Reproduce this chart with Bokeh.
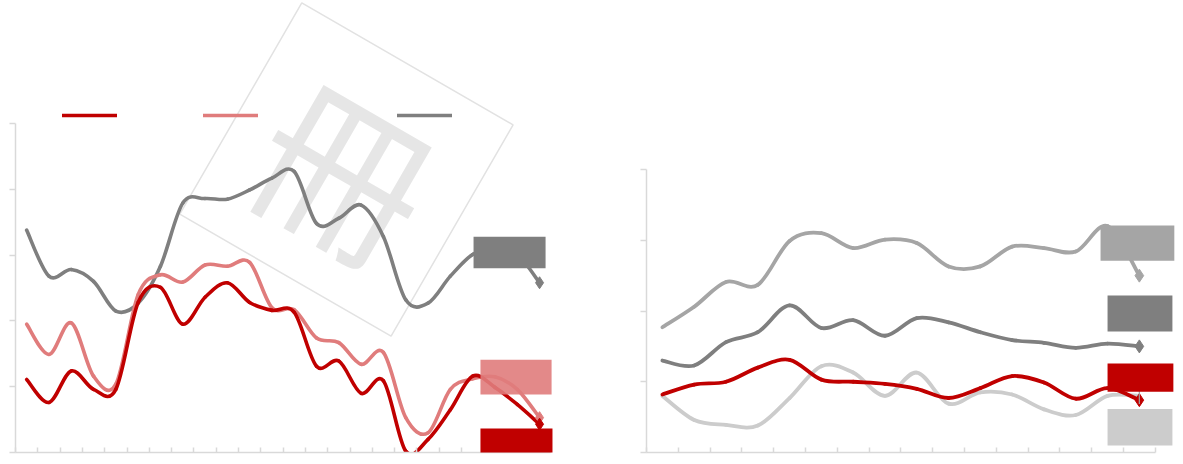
import math
from bokeh.plotting import figure
from bokeh.layouts import row
from bokeh.models import (Range1d, Legend, LegendItem, BoxAnnotation, FixedTicker,
                          CustomLabelingPolicy, Label)
from bokeh.embed import file_html
from bokeh.resources import INLINE

# ---------------- data ----------------
# left chart: 24 periods
left_dark_red = [1.11, 0.76, 1.24, 0.96, 0.96, 2.28, 2.51, 1.95, 2.36, 2.58, 2.28, 2.16,
                 2.13, 1.31, 1.39, 0.90, 1.09, 0.02, 0.20, 0.65, 1.16, 0.99, 0.73, 0.43]
left_light_red = [1.95, 1.49, 1.97, 1.16, 1.04, 2.40, 2.70, 2.59, 2.85, 2.83, 2.89, 2.20,
                  2.17, 1.74, 1.67, 1.34, 1.52, 0.53, 0.30, 0.96, 1.12, 1.15, 0.96, 0.53]
left_gray = [3.38, 2.68, 2.78, 2.60, 2.15, 2.27, 2.83, 3.79, 3.86, 3.85, 3.99, 4.17,
             4.27, 3.48, 3.56, 3.76, 3.28, 2.32, 2.27, 2.68, 3.01, 3.11, 3.01, 2.58]
left_y_ticks = [0, 1, 2, 3, 4, 5]

# right chart: 16 periods
right_a = [1.77, 2.06, 2.41, 2.37, 2.99, 3.10, 2.89, 3.01, 2.96, 2.63, 2.63, 2.91,
           2.89, 2.84, 3.20, 2.50]
right_b = [1.30, 1.23, 1.56, 1.70, 2.08, 1.76, 1.87, 1.65, 1.90, 1.84, 1.70, 1.59,
           1.55, 1.48, 1.54, 1.50]
right_c = [0.82, 0.96, 1.00, 1.20, 1.31, 1.03, 1.00, 0.97, 0.90, 0.77, 0.91, 1.08,
           0.99, 0.76, 0.91, 0.74]
right_d = [0.80, 0.46, 0.39, 0.38, 0.77, 1.22, 1.13, 0.80, 1.13, 0.69, 0.85, 0.82,
           0.61, 0.53, 0.80, 0.80]
right_y_ticks = [0, 1, 2, 3, 4]

logo_text = "冊"

# ---------------- styles ----------------
DARK_RED = "#C00000"
LIGHT_RED = "#E07C7C"
GRAY = "#7F7F7F"
MID_GRAY = "#A5A5A5"
LIGHT_GRAY = "#CCCCCC"
AXIS = "#D9D9D9"
WM = "#E6E6E6"
WM_FONT = "Noto Sans CJK SC"
ROT = -math.radians(30)

NO_LABELS = CustomLabelingPolicy(code="return new Set()")


def smooth(p, ys, color, width):
    """Excel-like smoothed line: cubic Bezier segments through the data points."""
    n = len(ys)
    xs = [i + 0.5 for i in range(n)]
    x0, y0, x1, y1, cx0, cy0, cx1, cy1 = [], [], [], [], [], [], [], []
    for i in range(n - 1):
        im1 = max(i - 1, 0)
        ip2 = min(i + 2, n - 1)
        x0.append(xs[i]); y0.append(ys[i])
        x1.append(xs[i + 1]); y1.append(ys[i + 1])
        cx0.append(xs[i] + (xs[i + 1] - xs[im1]) / 6.0)
        cy0.append(ys[i] + (ys[i + 1] - ys[im1]) / 6.0)
        cx1.append(xs[i + 1] - (xs[ip2] - xs[i]) / 6.0)
        cy1.append(ys[i + 1] - (ys[ip2] - ys[i]) / 6.0)
    return p.bezier(x0=x0, y0=y0, x1=x1, y1=y1, cx0=cx0, cy0=cy0, cx1=cx1, cy1=cy1,
                    line_color=color, line_width=width, line_cap="round")


def style_axes(p, n, yticks):
    for ax in (p.xaxis[0], p.yaxis[0]):
        ax.axis_line_color = AXIS
        ax.axis_line_width = 1.5
        ax.major_tick_line_color = AXIS
        ax.major_tick_line_width = 1.5
        ax.minor_tick_line_color = None
        ax.major_label_policy = NO_LABELS
        ax.major_label_standoff = 0
    p.xaxis[0].ticker = FixedTicker(ticks=list(range(n + 1)))
    p.xaxis[0].bounds = (0, n)
    p.xaxis[0].major_tick_in = 5
    p.xaxis[0].major_tick_out = 0
    p.yaxis[0].ticker = FixedTicker(ticks=yticks)
    p.yaxis[0].bounds = (yticks[0], yticks[-1])
    p.yaxis[0].major_tick_in = 0
    p.yaxis[0].major_tick_out = 6
    p.xgrid.visible = False
    p.ygrid.visible = False
    p.outline_line_color = None


FRAME_H = 452

# ---------------- left chart ----------------
n1 = len(left_dark_red)
p1 = figure(frame_width=616, frame_height=FRAME_H, output_backend="svg", toolbar_location=None,
            x_range=Range1d(0, 616 / 22.3), y_range=Range1d(0, FRAME_H / 65.8),
            min_border_left=13, min_border_right=0, min_border_top=0, min_border_bottom=10)
style_axes(p1, n1, left_y_ticks)

# watermark logo (square + glyph)
p1.rect(x=[14.84], y=[4.30], width=244, height=244, width_units="screen",
        height_units="screen", angle=ROT, fill_color=None, line_color="#E2E2E2",
        line_width=1.5)
p1.add_layout(Label(x=14.89, y=4.35, text=logo_text, angle=ROT, text_align="center",
                    text_baseline="middle", text_font=WM_FONT,
                    text_font_size="170px", text_color=WM, level="underlay"))

r_gray = smooth(p1, left_gray, GRAY, 3.6)
r_light = smooth(p1, left_light_red, LIGHT_RED, 3.6)
r_dark = smooth(p1, left_dark_red, DARK_RED, 3.6)

for ys, col in ((left_gray, GRAY), (left_light_red, LIGHT_RED), (left_dark_red, DARK_RED)):
    p1.scatter(x=[n1 - 0.5], y=[ys[-1]], marker="diamond", size=12,
               fill_color=col, line_color=col)

# label boxes (data-label backgrounds)
for (l, r, b, t), col, a in (((20.54, 23.77, 2.80, 3.28), GRAY, 1.0),
                             ((20.85, 24.04, 0.88, 1.41), LIGHT_RED, 0.9),
                             ((20.85, 24.08, -0.09, 0.365), DARK_RED, 1.0)):
    p1.add_layout(BoxAnnotation(left=l, right=r, bottom=b, top=t, fill_color=col,
                                fill_alpha=a, line_color=None))

# legend (line keys only)
for xloc, rend in ((47, r_dark), (188, r_light), (382, r_gray)):
    lg = Legend(items=[LegendItem(label=" ", renderers=[rend])], location=(xloc, 332),
                padding=0, margin=0, spacing=0, glyph_width=55, glyph_height=10,
                label_width=0, label_height=10, label_standoff=0,
                label_text_font_size="10px",
                border_line_color=None, background_fill_alpha=0)
    p1.add_layout(lg, "center")

# ---------------- right chart ----------------
n2 = len(right_a)
p2 = figure(frame_width=531, frame_height=FRAME_H, output_backend="svg", toolbar_location=None,
            x_range=Range1d(0, 16.7), y_range=Range1d(0, FRAME_H / 70.75),
            min_border_left=6, min_border_right=2, min_border_top=0, min_border_bottom=10)
style_axes(p2, n2, right_y_ticks)

smooth(p2, right_d, LIGHT_GRAY, 3.8)
smooth(p2, right_a, MID_GRAY, 3.8)
smooth(p2, right_b, GRAY, 3.8)
smooth(p2, right_c, DARK_RED, 3.8)

for ys, col in ((right_a, MID_GRAY), (right_b, GRAY), (right_c, DARK_RED)):
    p2.scatter(x=[n2 - 0.5], y=[ys[-1]], marker="diamond", size=13,
               fill_color=col, line_color=col)
p2.scatter(x=[n2 - 0.5], y=[right_d[-1]], marker="dash", angle=1.5708, size=16,
           line_color="#A0A0A0", line_width=1.2)

for (l, r, b, t), col in (((14.28, 16.6, 2.71, 3.21), MID_GRAY),
                          ((14.5, 16.54, 1.709, 2.22), GRAY),
                          ((14.5, 16.57, 0.857, 1.257), DARK_RED),
                          ((14.5, 16.54, 0.10, 0.614), LIGHT_GRAY)):
    p2.add_layout(BoxAnnotation(left=l, right=r, bottom=b, top=t, fill_color=col,
                                fill_alpha=1.0, line_color=None))

layout = row(p1, p2)
open("out.html", "w").write(file_html(layout, INLINE))
